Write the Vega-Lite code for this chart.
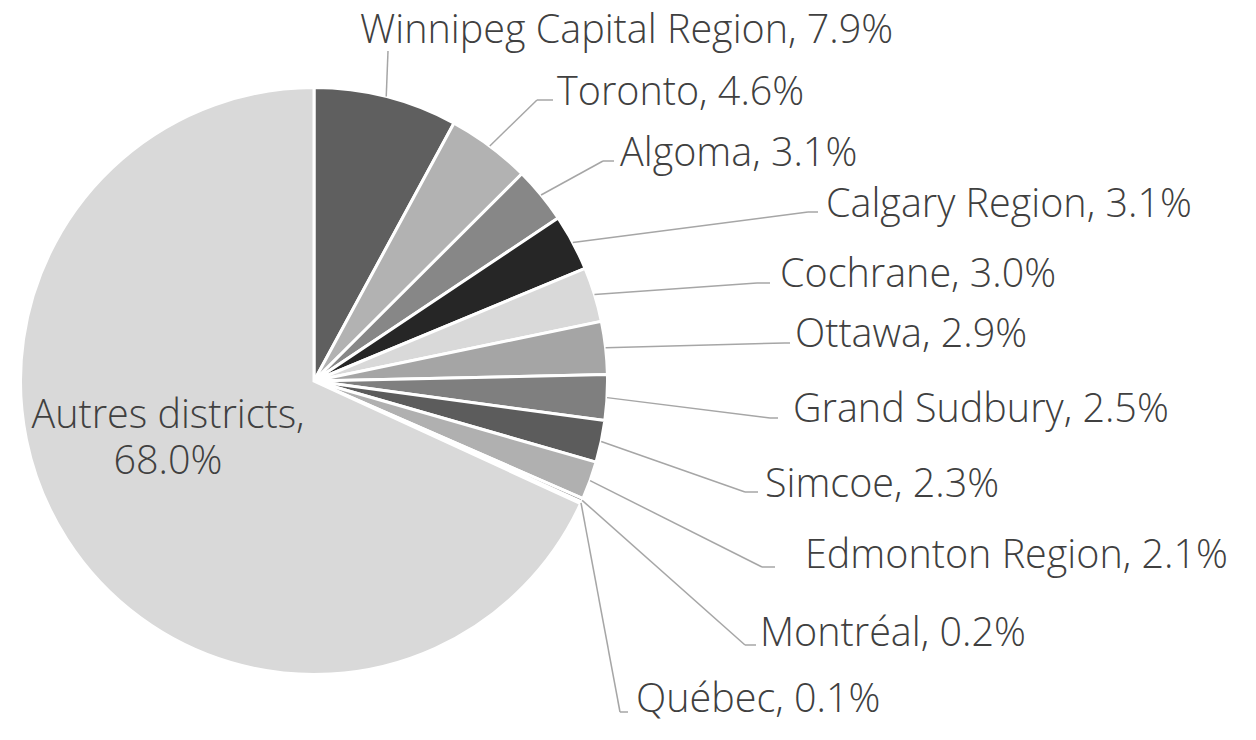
{
  "$schema": "https://vega.github.io/schema/vega-lite/v6.json",
  "width": 1256,
  "height": 740,
  "padding": 0,
  "autosize": {"type": "none"},
  "background": "white",
  "config": {"view": {"stroke": null}},
  "data": {
    "values": [
      {"name": "Winnipeg Capital Region", "value": 7.9, "order": 1},
      {"name": "Toronto", "value": 4.6, "order": 2},
      {"name": "Algoma", "value": 3.1, "order": 3},
      {"name": "Calgary Region", "value": 3.1, "order": 4},
      {"name": "Cochrane", "value": 3.0, "order": 5},
      {"name": "Ottawa", "value": 2.9, "order": 6},
      {"name": "Grand Sudbury", "value": 2.5, "order": 7},
      {"name": "Simcoe", "value": 2.3, "order": 8},
      {"name": "Edmonton Region", "value": 2.1, "order": 9},
      {"name": "Montréal", "value": 0.2, "order": 10},
      {"name": "Québec", "value": 0.1, "order": 11},
      {"name": "Autres districts", "value": 68.0, "order": 12}
    ]
  },
  "transform": [
    {"joinaggregate": [{"op": "sum", "field": "value", "as": "total"}]},
    {"window": [{"op": "sum", "field": "value", "as": "cum"}], "sort": [{"field": "order"}], "frame": [null, 0]},
    {"calculate": "2*PI*(datum.cum - datum.value/2)/datum.total", "as": "mid"},
    {"calculate": "314 + 293.5*sin(datum.mid)", "as": "ex"},
    {"calculate": "381 - 293.5*cos(datum.mid)", "as": "ey"},
    {"calculate": "{'Winnipeg Capital Region':[388,51,388,360,43],'Toronto':[537,100,553,557,105],'Algoma':[603,161,614,620,166],'Calgary Region':[808,212,818,826,217],'Cochrane':[757,283,770,780,287],'Ottawa':[785,343,790,795,347],'Grand Sudbury':[770,418,778,793,422],'Simcoe':[745,492,758,765,497],'Edmonton Region':[762,567,775,805,568],'Montréal':[745,645,756,760,646],'Québec':[620,712,628,636,712],'Autres districts':[168,428,168,168,428]}[datum.name]", "as": "L"},
    {"calculate": "datum.L[0]", "as": "bx"},
    {"calculate": "datum.L[1]", "as": "by"},
    {"calculate": "datum.L[2]", "as": "hx"},
    {"calculate": "datum.L[3]", "as": "tx"},
    {"calculate": "datum.L[4]", "as": "ty"},
    {"calculate": "datum.name + ', ' + format(datum.value, '.1f') + '%'", "as": "label"},
    {"calculate": "datum.name == 'Autres districts' ? datum.name + ',\\n' + format(datum.value, '.1f') + '%' : datum.label", "as": "label"}
  ],
  "layer": [
    {
      "mark": {"type": "arc", "radius": 293.5, "stroke": "white", "strokeWidth": 3},
      "encoding": {
        "theta": {"field": "value", "type": "quantitative", "stack": true},
        "order": {"field": "order", "type": "quantitative"},
        "color": {
          "field": "name",
          "type": "nominal",
          "legend": null,
          "scale": {
            "domain": ["Winnipeg Capital Region", "Toronto", "Algoma", "Calgary Region", "Cochrane", "Ottawa", "Grand Sudbury", "Simcoe", "Edmonton Region", "Montréal", "Québec", "Autres districts"],
            "range": ["#5f5f5f", "#b2b2b2", "#878787", "#262626", "#d9d9d9", "#a5a5a5", "#7f7f7f", "#5c5c5c", "#b0b0b0", "#8a8a8a", "#3a3a3a", "#d9d9d9"]
          }
        },
        "x": {"datum": 314, "type": "quantitative", "scale": {"domain": [0, 1256], "nice": false, "zero": false}, "axis": null},
        "y": {"datum": 381, "type": "quantitative", "scale": {"domain": [0, 740], "nice": false, "zero": false, "reverse": true}, "axis": null}
      }
    },
    {
      "transform": [{"filter": "datum.name != 'Autres districts'"}],
      "mark": {"type": "rule", "stroke": "#a6a6a6", "strokeWidth": 1.5},
      "encoding": {
        "x": {"field": "ex", "type": "quantitative"},
        "y": {"field": "ey", "type": "quantitative"},
        "x2": {"field": "bx"},
        "y2": {"field": "by"}
      }
    },
    {
      "transform": [{"filter": "datum.name != 'Autres districts'"}],
      "mark": {"type": "rule", "stroke": "#a6a6a6", "strokeWidth": 1.5},
      "encoding": {
        "x": {"field": "bx", "type": "quantitative"},
        "y": {"field": "by", "type": "quantitative"},
        "x2": {"field": "hx"},
        "y2": {"field": "by"}
      }
    },
    {
      "transform": [{"filter": "datum.name != 'Autres districts'"}],
      "mark": {"type": "text", "align": "left", "baseline": "alphabetic", "font": "Century Gothic, Open Sans", "fontWeight": 300, "fontSize": 39.5, "color": "#404040"},
      "encoding": {
        "x": {"field": "tx", "type": "quantitative"},
        "y": {"field": "ty", "type": "quantitative"},
        "text": {"field": "label"}
      }
    },
    {
      "transform": [{"filter": "datum.name == 'Autres districts'"}],
      "mark": {"type": "text", "align": "center", "baseline": "alphabetic", "lineBreak": "\n", "lineHeight": 46, "font": "Century Gothic, Open Sans", "fontWeight": 300, "fontSize": 39.5, "color": "#404040"},
      "encoding": {
        "x": {"field": "tx", "type": "quantitative"},
        "y": {"field": "ty", "type": "quantitative"},
        "text": {"field": "label"}
      }
    }
  ]
}
